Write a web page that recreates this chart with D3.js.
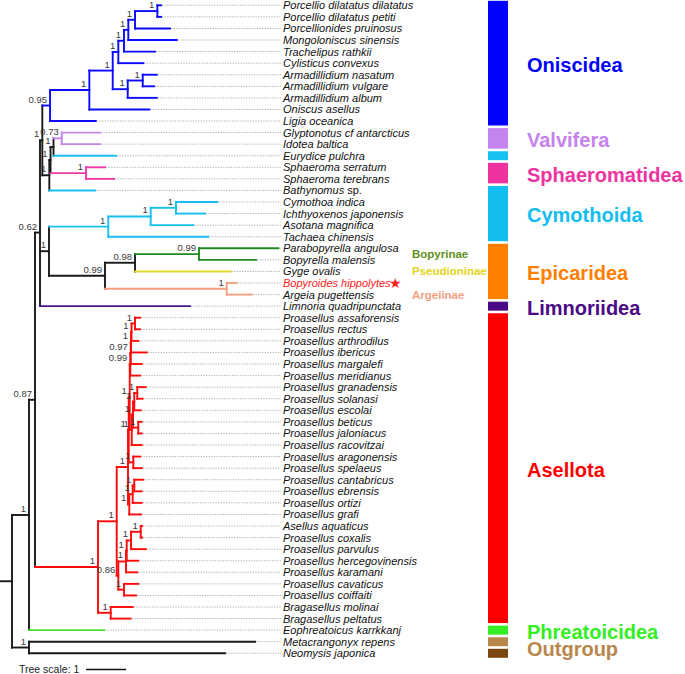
<!DOCTYPE html>
<html><head><meta charset="utf-8">
<script src="https://cdn.jsdelivr.net/npm/d3@7"></script>
<style>body{margin:0;background:#fff}svg{display:block}</style>
</head><body>
<svg id="c" width="685" height="674"></svg>
<script>
// ---------------- DATA ----------------
const taxa = [
"Porcellio dilatatus dilatatus","Porcellio dilatatus petiti","Porcellionides pruinosus","Mongoloniscus sinensis",
"Trachelipus rathkii","Cylisticus convexus","Armadillidium nasatum","Armadillidium vulgare","Armadillidium album",
"Oniscus asellus","Ligia oceanica","Glyptonotus cf antarcticus","Idotea baltica","Eurydice pulchra",
"Sphaeroma serratum","Sphaeroma terebrans","Bathynomus sp.","Cymothoa indica","Ichthyoxenos japonensis",
"Asotana magnifica","Tachaea chinensis","Parabopyrella angulosa","Bopyrella malensis","Gyge ovalis",
"Bopyroides hippolytes","Argeia pugettensis","Limnoria quadripunctata","Proasellus assaforensis",
"Proasellus rectus","Proasellus arthrodilus","Proasellus ibericus","Proasellus margalefi","Proasellus meridianus",
"Proasellus granadensis","Proasellus solanasi","Proasellus escolai","Proasellus beticus","Proasellus jaloniacus",
"Proasellus racovitzai","Proasellus aragonensis","Proasellus spelaeus","Proasellus cantabricus","Proasellus ebrensis",
"Proasellus ortizi","Proasellus grafi","Asellus aquaticus","Proasellus coxalis","Proasellus parvulus",
"Proasellus hercegovinensis","Proasellus karamani","Proasellus cavaticus","Proasellus coiffaiti",
"Bragasellus molinai","Bragasellus peltatus","Eophreatoicus karrkkanj","Metacrangonyx repens","Neomysis japonica"];

// internal nodes: [id, parent, branch length (tree-scale units), support]
const internalNodes = [
["root0","",0,null],["R","root0",0.3,null],["ING","R",0.425,1],["OUT","R",0.425,1],
["N087","ING",0.15,0.87],["N062","N087",0.125,0.62],["T","N062",0.058,1],["ONI","T",0.193,0.95],
["O1","ONI",0.982,1],["O2","O1",0.585,1],["O3","O2",0.14,1],["O4","O3",0.142,1],["O5","O4",0.108,1],
["O6","O5",0.168,1],["PD","O6",0.558,1],["ARM","O2",0.375,1],["AN","ARM",0.375,1],
["Q","T",0.175,1],["S1","Q",0.03,1],["VE","S1",0.075,1],["VAL","VE",0.205,0.73],["SP","S1",0.888,1],
["CE","N062",0.225,1],["CYM","CE",1.482,1],["CY2","CYM",1.06,1],["CY3","CY2",0.632,1],
["EPI","CE",1.4,0.99],["BG","EPI",0.75,0.98],["BOP","BG",1.6,0.99],["ARG","EPI",3.042,1],
["ASEL","N087",1.575,1],["PRO","ASEL",0.468,1],["BRA","ASEL",0.318,1],["PT","PRO",0.282,1],
["EAS","PT",0.018,1],["EG","EAS",0.025,1],["E","EG",0.015,0.99],["D","E",0.01,0.97],["C","D",0.008,1],
["B","C",0.012,1],["A","B",0.088,1],["G1","EG",0.05,1],["GSEBJ","G1",0.032,1],["GSE","GSEBJ",0.032,1],
["GS","GSE",0.075,1],["BJ","GSEBJ",0.132,1],["AS","EAS",0.115,1],["CEOG","PT",0.032,1],
["CEO","CEOG",0.085,1],["CE2","CEO",0.04,1],["PB","PRO",0.04,0.86],["K","PB",0.192,1],["H","K",0.018,1],
["ACP","H",0.108,1],["AC","ACP",0.242,1],["CC","PB",0.142,1]];

// leaves: [taxon index, parent, branch length]
const leafBranches = [
[0,"PD",0.092],[1,"PD",0.092],[2,"O6",0.875],[3,"O5",1.21],[4,"O4",0.775],[5,"O3",0.625],
[6,"AN",0.35],[7,"AN",0.282],[8,"ARM",0.725],[9,"O1",1.5],[10,"ONI",1.142],[11,"VAL",0.958],
[12,"VAL",0.958],[13,"VE",1.562],[14,"SP",0.475],[15,"SP",0.7],[16,"Q",1.143],[17,"CY3",1.032],
[18,"CY3",0.725],[19,"CY2",1.065],[20,"CYM",2.5],[21,"BOP",1.982],[22,"BOP",1.425],[23,"BG",2.392],
[24,"ARG",0.25],[25,"ARG",0.625],[26,"N062",3.75],[27,"A",0.125],[28,"A",0.125],[29,"B",0.17],
[30,"C",0.392],[31,"D",0.275],[32,"E",0.242],[33,"GS",0.21],[34,"GS",0.135],[35,"GSE",0.16],
[36,"BJ",0.085],[37,"BJ",0.085],[38,"G1",0.25],[39,"AS",0.168],[40,"AS",0.21],[41,"CE2",0.225],
[42,"CE2",0.185],[43,"CEO",0.225],[44,"CEOG",0.292],[45,"AC",0.032],[46,"AC",0.032],[47,"ACP",0.368],
[48,"H",0.29],[49,"K",0.282],[50,"CC",0.358],[51,"CC",0.3],[52,"BRA",0.55],[53,"BRA",0.5],
[54,"ING",1.875],[55,"OUT",5.65],[56,"OUT",4.9]];

// branch colours by clade (node id or taxon index)
const cladeColors = [
["ONI","#0a0aff"],["VAL","#c685ee"],[13,"#19bff0"],["SP","#ee3aa6"],[16,"#19bff0"],["CYM","#19bff0"],
["BOP","#1f8a1f"],[23,"#e3d82a"],["ARG","#f5a07c"],[26,"#4a1790"],["ASEL","#ff0a0a"],[54,"#47e02c"]];

// colour strip groups: [label, first taxon, last taxon, colour, show label]
const groups = [
["Oniscidea",0,10,"#0000ff",true],["Valvifera",11,12,"#c583ef",true],["",13,13,"#16c0f2",false],
["Sphaeromatidea",14,15,"#ee33a0",true],["Cymothoida",16,20,"#12bdf0",true],["Epicaridea",21,25,"#ff8000",true],
["Limnoriidea",26,26,"#4b0a85",true],["Asellota",27,53,"#ff0000",true],["Phreatoicidea",54,54,"#33ee22",true],
["",55,55,"#b8874e",false],["",56,56,"#7b4710",false]];
const outgroupLabel = ["Outgroup",55,56,"#b8874e"];

// subfamily labels: [label, first taxon, last taxon, colour]
const subfamilies = [["Bopyrinae",21,22,"#5d9020"],["Pseudioninae",23,23,"#e4d41c"],["Argeiinae",25,25,"#f5a080"]];

const highlightTaxon = 24;
const scaleUnit = 1;

// ---------------- DRAW ----------------
const svg = d3.select("#c");
const FONT = "'Liberation Sans', Arial, sans-serif";
const x = d3.scaleLinear().domain([0, 7]).range([0, 280]);
const y = d3.scaleLinear().domain([0, taxa.length - 1]).range([5.3, 653.3]);
const step = y(1) - y(0);

const rows = internalNodes.map(d => ({id: d[0], parent: d[1] || null, len: d[2], support: d[3]}))
  .concat(leafBranches.map(d => ({id: "t" + d[0], parent: d[1], len: d[2], support: null, leaf: d[0]})));
const root = d3.stratify().id(d => d.id).parentId(d => d.parent)(rows);

const colorMap = new Map(cladeColors.map(c => [typeof c[0] === "number" ? "t" + c[0] : c[0], c[1]]));
root.eachBefore(n => {
  n.depthLen = n.parent ? n.parent.depthLen + n.data.len : 0;
  n.color = colorMap.get(n.id) || (n.parent ? n.parent.color : "#1a1a1a");
});
root.eachAfter(n => {
  if (!n.children) { n.minIdx = n.data.leaf; n.yv = y(n.data.leaf); }
  else {
    n.children.sort((a, b) => a.minIdx - b.minIdx);
    n.minIdx = n.children[0].minIdx;
    n.yv = d3.mean(n.children, c => c.yv);
  }
  n.xv = x(n.depthLen);
});

const labelX = 283;
// dotted leaders
svg.append("g").selectAll("line").data(root.leaves()).join("line")
  .attr("x1", d => d.xv + 1).attr("x2", labelX - 2).attr("y1", d => d.yv).attr("y2", d => d.yv)
  .attr("stroke", "#a8a8a8").attr("stroke-width", 0.9).attr("stroke-dasharray", "1.3,1.3");

const br = svg.append("g").attr("fill", "none").attr("stroke-width", 1.9).attr("stroke-linecap", "square");
// vertical connector of every internal node, in the node's own colour
br.selectAll("path.v").data(root.descendants().filter(d => d.children && d.children.length > 1)).join("path")
  .attr("class", "v")
  .attr("d", d => `M${d.xv},${d.children[0].yv}V${d.children[d.children.length - 1].yv}`)
  .attr("stroke", d => d.color);
// horizontal branch of every node, in its own colour
br.selectAll("path.h").data(root.descendants().filter(d => d.parent)).join("path")
  .attr("class", "h")
  .attr("d", d => `M${d.parent.xv},${d.yv}H${d.xv}`)
  .attr("stroke", d => d.color);

// support values
svg.append("g").selectAll("text").data(root.descendants().filter(d => d.data.support != null)).join("text")
  .attr("x", d => d.xv - 3).attr("y", d => d.yv - 3).attr("text-anchor", "end")
  .attr("font-family", FONT).attr("font-size", 9.5).attr("fill", "#3a3a3a")
  .text(d => d.data.support);

// leaf labels
const lt = svg.append("g").selectAll("text").data(root.leaves()).join("text")
  .attr("x", labelX).attr("y", d => d.yv + 4).attr("font-family", FONT).attr("font-size", 11)
  .attr("font-style", "italic").attr("fill", d => d.data.leaf === highlightTaxon ? "#ff1a1a" : "#111");
lt.each(function(d) {
  const name = taxa[d.data.leaf];
  const t = d3.select(this);
  if (name.endsWith(" sp.")) {
    t.append("tspan").text(name.slice(0, -4));
    t.append("tspan").attr("font-style", "normal").text(" sp.");
  } else t.text(name);
});
// star
svg.append("text").attr("x", 389).attr("y", y(highlightTaxon) + 5).attr("font-family", "'DejaVu Sans'")
  .attr("font-size", 14).attr("fill", "#ff2020").text("\u2605");

// subfamily labels
svg.append("g").selectAll("text").data(subfamilies).join("text")
  .attr("x", 412).attr("y", d => (y(d[1]) + y(d[2])) / 2 + 4).attr("font-family", FONT)
  .attr("font-size", 11.5).attr("font-weight", "bold").attr("fill", d => d[3]).text(d => d[0]);

// colour strip
const stripX = 488, stripW = 20, pad = step / 2 - 1.3;
svg.append("g").selectAll("rect").data(groups).join("rect")
  .attr("x", stripX).attr("width", stripW)
  .attr("y", d => Math.max(0, y(d[1]) - pad)).attr("height", d => y(d[2]) + pad - Math.max(0, y(d[1]) - pad))
  .attr("fill", d => d[3]);
svg.append("g").selectAll("text").data(groups.filter(d => d[4]).concat([outgroupLabel])).join("text")
  .attr("x", 527).attr("y", d => (y(d[1]) + y(d[2])) / 2 + 1.5).attr("dy", "0.36em")
  .attr("font-family", FONT).attr("font-size", 20).attr("font-weight", "bold")
  .attr("fill", d => d[3]).text(d => d[0]);

// tree scale
const sb = svg.append("g").attr("transform", "translate(19,669.5)");
sb.append("text").attr("x", 0).attr("y", 3.5).attr("font-family", FONT).attr("font-size", 10.5).attr("fill", "#222")
  .text("Tree scale:  " + scaleUnit);
sb.append("line").attr("x1", 67).attr("x2", 67 + x(scaleUnit) - x(0)).attr("stroke", "#111").attr("stroke-width", 1.5);
</script>
</body></html>
